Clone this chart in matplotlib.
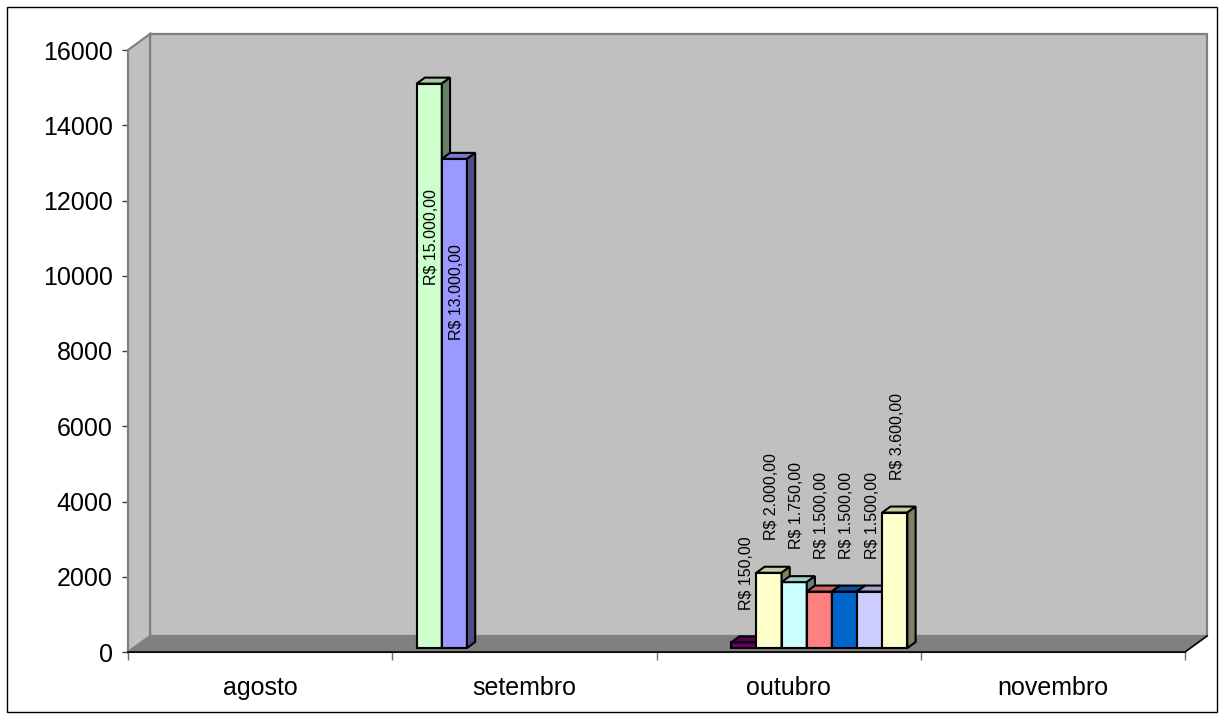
import matplotlib
matplotlib.use("Agg")
import matplotlib.pyplot as plt
from matplotlib.patches import Polygon, Rectangle
from matplotlib.transforms import IdentityTransform

plt.rcParams['font.family'] = ['Liberation Sans', 'DejaVu Sans']

# --- data -----------------------------------------------------------------
months = ['agosto', 'setembro', 'outubro', 'novembro']
# one value per series, placed in the month given by series_month
series_values = [15000, 13000, 150, 2000, 1750, 1500, 1500, 1500, 3600]
series_month = [1, 1, 2, 2, 2, 2, 2, 2, 2]
series_colors = ['#CCFFCC', '#9999FF', '#660066', '#FFFFCC', '#CCFFFF',
                 '#FF8080', '#0066CC', '#CCCCFF', '#FFFFCC']
y_ticks = [0, 2000, 4000, 6000, 8000, 10000, 12000, 14000, 16000]


def brl(v):
    s = f"{v:,.2f}".replace(',', 'X').replace('.', ',').replace('X', '.')
    return f"R$ {s}"


def shade(hex_color, k):
    r, g, b = matplotlib.colors.to_rgb(hex_color)
    return (r * k, g * k, b * k)


W, H = 1224, 722
fig = plt.figure(figsize=(W / 100, H / 100), dpi=100)
fig.patch.set_facecolor('white')

# front plane of the 3-D box
left, right, bottom, top = 128, 1185, 652, 50
ax = fig.add_axes([left / W, (H - bottom) / H, (right - left) / W, (bottom - top) / H])
ax.set_xlim(0, len(months))
ax.set_ylim(0, 16000)
ax.patch.set_visible(False)

DX, DY = 22, 16  # depth of the box in pixels


def P(x, y, f):
    px, py = ax.transData.transform((x, y))
    return (px + DX * f, py + DY * f)


def poly(pts, fc, ec, lw, z):
    p = Polygon(pts, closed=True, facecolor=fc, edgecolor=ec, linewidth=lw,
                transform=IdentityTransform(), zorder=z, clip_on=False,
                joinstyle='miter')
    fig.add_artist(p)


ymax = 16000
nx = len(months)
# back wall, side wall and floor
poly([P(0, 0, 1), P(nx, 0, 1), P(nx, ymax, 1), P(0, ymax, 1)], '#C0C0C0', '#808080', 1.6, 1)
poly([P(0, 0, 0), P(0, ymax, 0), P(0, ymax, 1), P(0, 0, 1)], '#C0C0C0', '#808080', 1.6, 1)
poly([P(0, 0, 0), P(nx, 0, 0), P(nx, 0, 1), P(0, 0, 1)], '#808080', '#808080', 1.0, 2)
# dark outer edge of the floor
fx = [P(0, 0, 0)[0], P(nx, 0, 0)[0], P(nx, 0, 1)[0]]
fy = [P(0, 0, 0)[1], P(nx, 0, 0)[1], P(nx, 0, 1)[1]]
fig.add_artist(plt.Line2D(fx, fy, color='black', lw=1.2, transform=IdentityTransform(), zorder=3))

# --- bars ----------------------------------------------------------------
n_series = len(series_values)
gap = 1.5
w = 1.0 / (n_series + gap)
f0, f1 = 0.25, 0.625
z = 5
for k, (v, m, c) in enumerate(zip(series_values, series_month, series_colors)):
    x0 = m + gap * w / 2 + k * w
    x1 = x0 + w
    poly([P(x0, 0, f0), P(x1, 0, f0), P(x1, v, f0), P(x0, v, f0)], c, 'black', 1.5, z)
    poly([P(x0, v, f0), P(x1, v, f0), P(x1, v, f1), P(x0, v, f1)], shade(c, 0.8), 'black', 1.5, z)
    poly([P(x1, 0, f0), P(x1, 0, f1), P(x1, v, f1), P(x1, v, f0)], shade(c, 0.5), 'black', 1.5, z)
    z += 1

    # value label
    xc = (x0 + x1) / 2
    lx, ly = P(xc, v, 0.36)
    if v > 10000:
        lx, ly = P(xc, 0.725 * v, 0.36)
        fig.text(lx / W, ly / H, brl(v), rotation=90, ha='center', va='center',
                 fontsize=11.5, color='black', zorder=30)
    else:
        fig.text(lx / W, (ly + 31) / H, brl(v), rotation=90, ha='center', va='bottom',
                 fontsize=11.5, color='black', zorder=30)

# --- axes ----------------------------------------------------------------
for s in ['top', 'right']:
    ax.spines[s].set_visible(False)
ax.spines['left'].set_color('black')
ax.spines['bottom'].set_color('black')
ax.spines['left'].set_linewidth(1.2)
ax.spines['bottom'].set_linewidth(1.5)
ax.spines['left'].set_zorder(4)
ax.spines['bottom'].set_zorder(4)

ax.set_yticks(y_ticks)
ax.set_yticklabels([str(t) for t in y_ticks], fontsize=18)
ax.tick_params(axis='y', length=4.5, width=1, color='#404040', pad=6.5)

ax.set_xticks([i + 0.5 for i in range(nx)])
ax.set_xticklabels(months, fontsize=18)
ax.set_xticks(range(nx + 1), minor=True)
ax.tick_params(axis='x', which='major', length=0, pad=17)
ax.tick_params(axis='x', which='minor', length=6, width=1, color='#707070')

# chart border
fig.add_artist(Rectangle((7 / W, 10 / H), 1210 / W, 705 / H, transform=fig.transFigure,
                         fill=False, edgecolor='black', linewidth=1.0, zorder=50))

fig.savefig('out.png', dpi=100)
